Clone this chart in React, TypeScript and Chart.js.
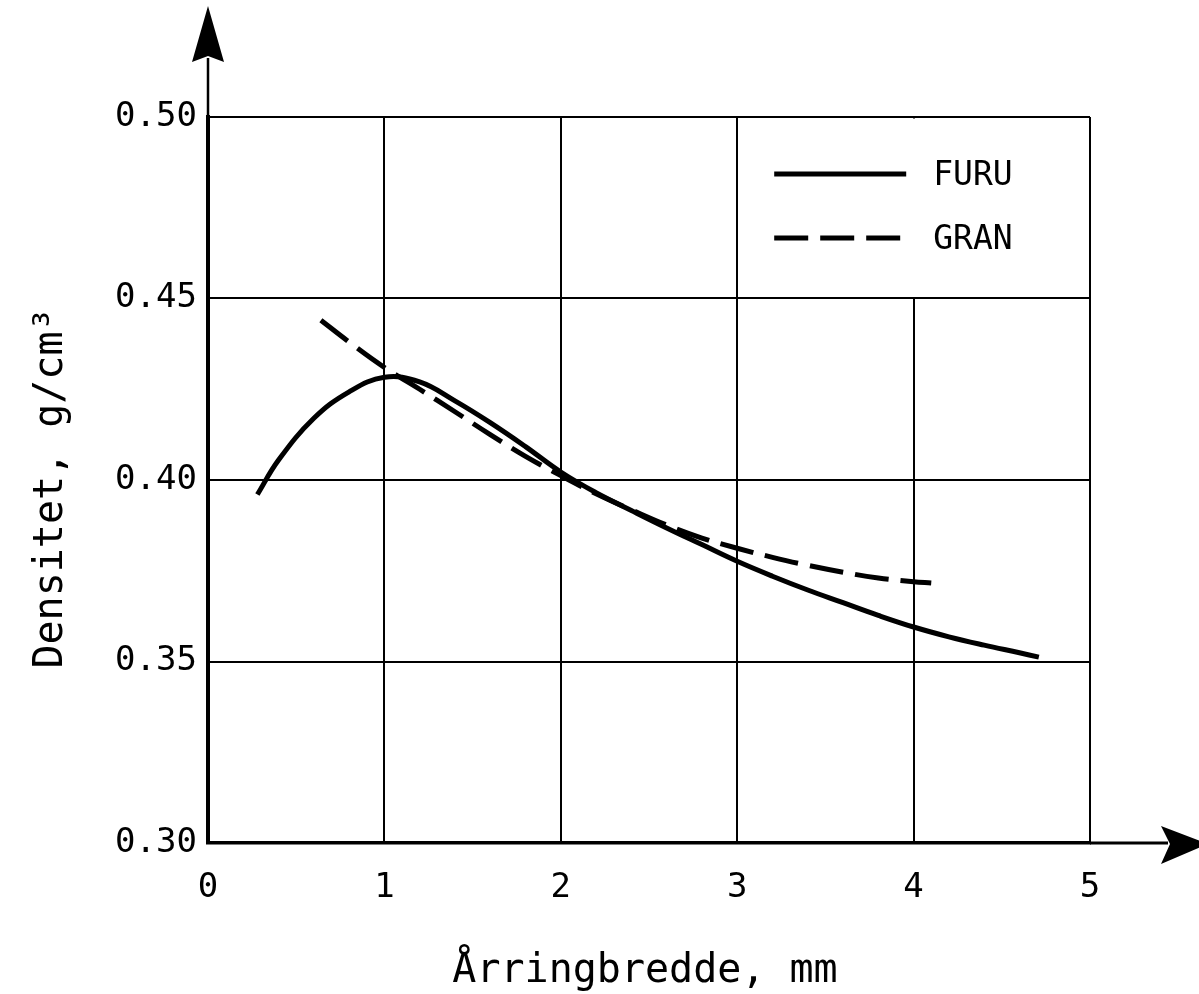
import React, { useEffect, useRef } from "react";
import { Chart, registerables } from "chart.js";

Chart.register(...registerables);

const FONT = '"DejaVu Sans Mono", "Liberation Mono", monospace';

const xTicks = [0, 1, 2, 3, 4, 5];
const yTicks = [0.3, 0.35, 0.4, 0.45, 0.5];
const seriesNames = ["FURU", "GRAN"];
const xTitle = "Årringbredde, mm";
const yTitle = "Densitet, g/cm³";

const furuX = [0.28, 0.4, 0.6, 0.8, 1.0, 1.2, 1.4, 1.6, 1.8, 2.0, 2.2, 2.4, 2.6, 2.8, 3.0, 3.2, 3.4, 3.6, 3.8, 4.0, 4.2, 4.4, 4.6, 4.71];
const furuY = [0.396, 0.4055, 0.417, 0.4243, 0.4283, 0.427, 0.4218, 0.4158, 0.4092, 0.4022, 0.3965, 0.3916, 0.3868, 0.3822, 0.3776, 0.3735, 0.3697, 0.3662, 0.3627, 0.3595, 0.3568, 0.3545, 0.3524, 0.3512];

const granX = [0.64, 0.8, 1.0, 1.2, 1.4, 1.6, 1.8, 2.0, 2.2, 2.4, 2.6, 2.8, 3.0, 3.2, 3.4, 3.6, 3.8, 4.0, 4.1];
const granY = [0.444, 0.438, 0.431, 0.425, 0.4188, 0.4125, 0.4065, 0.4012, 0.3962, 0.3918, 0.3876, 0.384, 0.3812, 0.3787, 0.3765, 0.3746, 0.373, 0.372, 0.3716];

const decor = {
  id: "decor",
  beforeDatasetsDraw(chart: any) {
    const { ctx, scales } = chart;
    const x = scales.x;
    const y = scales.y;
    const l = x.getPixelForValue(3);
    const r = x.getPixelForValue(5);
    const t = y.getPixelForValue(0.5);
    const b = y.getPixelForValue(0.45);
    ctx.save();
    ctx.fillStyle = "#fff";
    ctx.fillRect(l + 1.5, t + 1.5, r - l - 3, b - t - 3);
    ctx.restore();
  },
  afterDraw(chart: any) {
    const { ctx, chartArea: ca, scales } = chart;
    const x = scales.x;
    const y = scales.y;
    ctx.save();
    ctx.strokeStyle = "#000";
    ctx.fillStyle = "#000";
    ctx.lineWidth = 2.5;
    // y axis arrow
    ctx.beginPath();
    ctx.moveTo(ca.left, ca.top);
    ctx.lineTo(ca.left, 58);
    ctx.stroke();
    ctx.beginPath();
    ctx.moveTo(ca.left, 6);
    ctx.lineTo(ca.left + 16, 62);
    ctx.lineTo(ca.left, 56);
    ctx.lineTo(ca.left - 16, 62);
    ctx.closePath();
    ctx.fill();
    // x axis arrow
    ctx.lineWidth = 3;
    ctx.beginPath();
    ctx.moveTo(ca.right, ca.bottom);
    ctx.lineTo(1168, ca.bottom);
    ctx.stroke();
    ctx.beginPath();
    ctx.moveTo(1208, ca.bottom + 1);
    ctx.lineTo(1161, ca.bottom - 17);
    ctx.lineTo(1170, ca.bottom + 1);
    ctx.lineTo(1161, ca.bottom + 21);
    ctx.closePath();
    ctx.fill();

    // legend
    const l = x.getPixelForValue(3);
    const t = y.getPixelForValue(0.5);
    const rows = [t + 57, t + 121];
    chart.data.datasets.forEach((ds: any, i: number) => {
      const yy = rows[i];
      ctx.save();
      ctx.lineWidth = 5;
      ctx.strokeStyle = ds.borderColor;
      ctx.setLineDash(ds.borderDash || []);
      ctx.beginPath();
      ctx.moveTo(l + 37, yy);
      ctx.lineTo(l + 169, yy);
      ctx.stroke();
      ctx.restore();
      ctx.font = `33px ${FONT}`;
      ctx.textAlign = "left";
      ctx.textBaseline = "middle";
      ctx.fillText(ds.label, l + 196, yy + 2);
    });

    // titles
    ctx.font = `40px ${FONT}`;
    ctx.textAlign = "center";
    ctx.textBaseline = "alphabetic";
    ctx.fillText(xTitle, 645, 982);
    ctx.save();
    ctx.translate(62, 488);
    ctx.rotate(-Math.PI / 2);
    ctx.fillText(yTitle, 0, 0);
    ctx.restore();
    ctx.restore();
  },
};

export default function App() {
  const ref = useRef<HTMLCanvasElement | null>(null);
  useEffect(() => {
    if (!ref.current) return;
    const chart = new Chart(ref.current, {
      type: "line",
      data: {
        datasets: [
          {
            label: seriesNames[0],
            data: furuX.map((v, i) => ({ x: v, y: furuY[i] })),
            borderColor: "#000",
            borderWidth: 5,
            pointRadius: 0,
            tension: 0.4,
            fill: false,
          },
          {
            label: seriesNames[1],
            data: granX.map((v, i) => ({ x: v, y: granY[i] })),
            borderColor: "#000",
            borderWidth: 5,
            borderDash: [34, 12],
            pointRadius: 0,
            tension: 0.4,
            fill: false,
          },
        ],
      },
      options: {
        animation: false,
        responsive: false,
        layout: { padding: { left: 0, top: 117, right: 109, bottom: 0 } },
        plugins: { legend: { display: false }, tooltip: { enabled: false } },
        scales: {
          x: {
            type: "linear",
            min: 0,
            max: 5,
            afterBuildTicks: (s: any) => {
              s.ticks = xTicks.map((v) => ({ value: v }));
            },
            afterFit: (s: any) => {
              s.height = 151;
            },
            grid: { color: "#000", lineWidth: 2, drawTicks: false },
            border: { color: "#000", width: 3.5 },
            ticks: {
              color: "#000",
              padding: 25,
              font: { family: FONT, size: 34 },
              callback: (v: any) => String(v),
              maxRotation: 0,
            },
          },
          y: {
            type: "linear",
            min: 0.3,
            max: 0.5,
            afterBuildTicks: (s: any) => {
              s.ticks = yTicks.map((v) => ({ value: v }));
            },
            afterFit: (s: any) => {
              s.width = 208;
            },
            grid: { color: "#000", lineWidth: 2, drawTicks: false },
            border: { color: "#000", width: 4 },
            ticks: {
              color: "#000",
              padding: 11,
              font: { family: FONT, size: 34 },
              callback: (v: any) => Number(v).toFixed(2),
            },
          },
        },
      },
      plugins: [decor],
    } as any);
    return () => chart.destroy();
  }, []);
  return (
    <div style={{ position: "absolute", left: 0, top: 0, width: 1199, height: 994, background: "#fff" }}>
      <canvas ref={ref} width={1199} height={994} style={{ display: "block" }} />
    </div>
  );
}
